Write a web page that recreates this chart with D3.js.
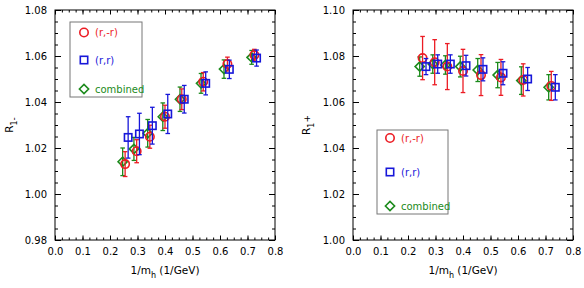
<!DOCTYPE html>
<html><head><meta charset="utf-8">
<script src="https://cdn.jsdelivr.net/npm/d3@7"></script>
<style>body{margin:0;background:#fff}svg{display:block}</style>
</head><body>
<svg id="c" width="584" height="288"></svg>
<script>
// ---- data ----
const xTickValues = [0, 0.1, 0.2, 0.3, 0.4, 0.5, 0.6, 0.7, 0.8];
const leftYTicks = [0.98, 1.00, 1.02, 1.04, 1.06, 1.08];
const rightYTicks = [1.00, 1.02, 1.04, 1.06, 1.08, 1.10];
const seriesNames = ["(r,-r)", "(r,r)", "combined"];

const leftRedX   = [0.255, 0.297, 0.345, 0.400, 0.461, 0.539, 0.627, 0.725];
const leftRedY   = [1.0130, 1.0186, 1.0249, 1.0336, 1.0412, 1.0488, 1.0565, 1.0604];
const leftRedErr = [0.0054, 0.005, 0.005, 0.005, 0.0045, 0.004, 0.003, 0.0025];
const leftBlueX   = [0.266, 0.307, 0.354, 0.410, 0.470, 0.548, 0.634, 0.733];
const leftBlueY   = [1.0246, 1.0261, 1.0297, 1.0348, 1.0412, 1.0481, 1.0542, 1.0591];
const leftBlueErr = [0.009, 0.009, 0.008, 0.0085, 0.006, 0.005, 0.004, 0.0035];
const leftGreenX   = [0.246, 0.287, 0.337, 0.392, 0.4545, 0.531, 0.6145, 0.715];
const leftGreenY   = [1.0140, 1.0196, 1.0264, 1.0336, 1.0412, 1.0481, 1.0543, 1.0594];
const leftGreenErr = [0.006, 0.005, 0.006, 0.006, 0.0053, 0.0043, 0.004, 0.003];

const rightRedX   = [0.253, 0.297, 0.343, 0.400, 0.4655, 0.538, 0.619, 0.721];
const rightRedY   = [1.0791, 1.0773, 1.0754, 1.0735, 1.0717, 1.0707, 1.0696, 1.0670];
const rightRedErr = [0.0094, 0.0098, 0.010, 0.0094, 0.0089, 0.0078, 0.007, 0.0063];
const rightBlueX   = [0.2655, 0.308, 0.354, 0.411, 0.4727, 0.5455, 0.635, 0.7357];
const rightBlueY   = [1.0754, 1.0765, 1.0765, 1.0758, 1.0742, 1.0725, 1.0700, 1.0664];
const rightBlueErr = [0.0035, 0.004, 0.004, 0.0045, 0.005, 0.005, 0.005, 0.0055];
const rightGreenX   = [0.2425, 0.290, 0.336, 0.390, 0.4535, 0.526, 0.612, 0.7115];
const rightGreenY   = [1.0754, 1.0765, 1.0761, 1.0754, 1.0739, 1.0717, 1.0693, 1.0664];
const rightGreenErr = [0.0042, 0.004, 0.004, 0.0045, 0.005, 0.0055, 0.006, 0.0055];

// ---- styles ----
const RED = "#ec1c24", BLUE = "#1717d9", GREEN = "#1b8a1b";
const FONT = "DejaVu Sans, sans-serif";

const svg = d3.select("#c");

function zip(xs, ys, es) { return xs.map((x, i) => ({x, y: ys[i], e: es[i]})); }

function drawMarker(g, type, cx, cy, color) {
  if (type === "circle") {
    g.append("circle").attr("cx", cx).attr("cy", cy).attr("r", 4.2)
      .attr("fill", "none").attr("stroke", color).attr("stroke-width", 1.6);
  } else if (type === "square") {
    g.append("rect").attr("x", cx - 3.7).attr("y", cy - 3.7).attr("width", 7.4).attr("height", 7.4)
      .attr("fill", "none").attr("stroke", color).attr("stroke-width", 1.6);
  } else {
    const s = 4.6;
    g.append("path").attr("d", `M${cx - s},${cy}L${cx},${cy - s}L${cx + s},${cy}L${cx},${cy + s}Z`)
      .attr("fill", "none").attr("stroke", color).attr("stroke-width", 1.6);
  }
}

function panel(cfg) {
  const x = d3.scaleLinear().domain([0, 0.8]).range([cfg.x0, cfg.x1]);
  const y = d3.scaleLinear().domain(cfg.yDomain).range([240, 10]);
  const g = svg.append("g");

  // frame
  g.append("rect").attr("x", cfg.x0).attr("y", 10).attr("width", cfg.x1 - cfg.x0).attr("height", 230)
    .attr("fill", "none").attr("stroke", "#000").attr("stroke-width", 1);

  const minorX = d3.range(0, 0.8001, 0.025);
  const minorY = d3.range(cfg.yDomain[0], cfg.yDomain[1] + 0.0001, 0.005);

  function styleAxis(sel) {
    sel.select(".domain").remove();
    sel.selectAll("line").attr("stroke", "#000").attr("stroke-width", 1);
    sel.selectAll("text").attr("font-family", FONT).attr("font-size", 10).attr("fill", "#000");
  }
  // bottom
  g.append("g").attr("transform", "translate(0,240)")
    .call(d3.axisBottom(x).tickValues(minorX).tickSize(-2.5).tickFormat(""))
    .call(styleAxis);
  g.append("g").attr("transform", "translate(0,240)")
    .call(d3.axisBottom(x).tickValues(xTickValues).tickSize(-4.5).tickPadding(8).tickFormat(d3.format(".1f")))
    .call(styleAxis);
  // top
  g.append("g").attr("transform", "translate(0,10)")
    .call(d3.axisTop(x).tickValues(minorX).tickSize(-2.5).tickFormat("")).call(styleAxis);
  g.append("g").attr("transform", "translate(0,10)")
    .call(d3.axisTop(x).tickValues(xTickValues).tickSize(-4.5).tickFormat("")).call(styleAxis);
  // left
  g.append("g").attr("transform", `translate(${cfg.x0},0)`)
    .call(d3.axisLeft(y).tickValues(minorY).tickSize(-3).tickFormat("")).call(styleAxis);
  g.append("g").attr("transform", `translate(${cfg.x0},0)`)
    .call(d3.axisLeft(y).tickValues(cfg.yTicks).tickSize(-6).tickPadding(8).tickFormat(d3.format(".2f")))
    .call(styleAxis);
  // right
  g.append("g").attr("transform", `translate(${cfg.x1},0)`)
    .call(d3.axisRight(y).tickValues(minorY).tickSize(-3).tickFormat("")).call(styleAxis);
  g.append("g").attr("transform", `translate(${cfg.x1},0)`)
    .call(d3.axisRight(y).tickValues(cfg.yTicks).tickSize(-6).tickFormat("")).call(styleAxis);

  // x label
  const xl = g.append("text").attr("x", (cfg.x0 + cfg.x1) / 2).attr("y", 274)
    .attr("text-anchor", "middle").attr("font-family", FONT).attr("font-size", 10.5);
  xl.append("tspan").text("1/m");
  xl.append("tspan").attr("dy", 4).attr("font-size", 8).text("h");
  xl.append("tspan").attr("dy", -4).text(" (1/GeV)");

  // y label
  const yl = g.append("text").attr("transform", `translate(${cfg.ylx},125) rotate(-90)`)
    .attr("text-anchor", "middle").attr("font-family", FONT).attr("font-size", 10.5);
  yl.append("tspan").text("R");
  yl.append("tspan").attr("dy", 4).attr("font-size", 8).text("1");
  yl.append("tspan").attr("dy", cfg.signDy).attr("font-size", 9).text(cfg.sign);

  // data series
  const series = [
    {data: cfg.green, color: GREEN, type: "diamond"},
    {data: cfg.red, color: RED, type: "circle"},
    {data: cfg.blue, color: BLUE, type: "square"}
  ];
  series.forEach(s => {
    const sg = g.append("g");
    s.data.forEach(d => {
      const cx = x(d.x), yt = y(d.y + d.e), yb = y(d.y - d.e);
      sg.append("line").attr("x1", cx).attr("x2", cx).attr("y1", yt).attr("y2", yb)
        .attr("stroke", s.color).attr("stroke-width", 1.3);
      [yt, yb].forEach(yy => sg.append("line").attr("x1", cx - 2.3).attr("x2", cx + 2.3)
        .attr("y1", yy).attr("y2", yy).attr("stroke", s.color).attr("stroke-width", 1.3));
      drawMarker(sg, s.type, cx, y(d.y), s.color);
    });
  });

  // legend
  const L = cfg.legend;
  g.append("rect").attr("x", L.x).attr("y", L.y).attr("width", L.w).attr("height", L.h)
    .attr("fill", "#fff").attr("stroke", "#777").attr("stroke-width", 1);
  const items = [
    {name: seriesNames[0], color: RED, type: "circle"},
    {name: seriesNames[1], color: BLUE, type: "square"},
    {name: seriesNames[2], color: GREEN, type: "diamond"}
  ];
  items.forEach((it, i) => {
    const ry = L.rows[i];
    drawMarker(g, it.type, L.mx, ry, it.color);
    g.append("text").attr("x", L.mx + 11).attr("y", ry + 3.5).attr("font-family", FONT)
      .attr("font-size", 10).attr("fill", it.color).text(it.name);
  });
}

panel({
  x0: 55, x1: 275, yDomain: [0.98, 1.08], yTicks: leftYTicks, ylx: 13, sign: "-", signDy: 0,
  red: zip(leftRedX, leftRedY, leftRedErr),
  blue: zip(leftBlueX, leftBlueY, leftBlueErr),
  green: zip(leftGreenX, leftGreenY, leftGreenErr),
  legend: {x: 70, y: 22, w: 72, h: 75, mx: 84, rows: [32.5, 60, 89]}
});
panel({
  x0: 353, x1: 573, yDomain: [1.00, 1.10], yTicks: rightYTicks, ylx: 310, sign: "+", signDy: -4,
  red: zip(rightRedX, rightRedY, rightRedErr),
  blue: zip(rightBlueX, rightBlueY, rightBlueErr),
  green: zip(rightGreenX, rightGreenY, rightGreenErr),
  legend: {x: 377, y: 130, w: 71, h: 84, mx: 390, rows: [138, 172, 206]}
});
</script>
</body></html>
